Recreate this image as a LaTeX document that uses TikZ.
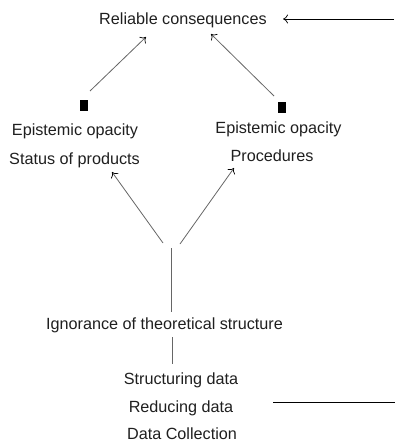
\documentclass[tikz,border=0pt]{standalone}
\usepackage{fontspec}
\setmainfont{Liberation Sans}
\usetikzlibrary{arrows.meta}
\begin{document}
\begin{tikzpicture}[x=1pt,y=-1pt,
  lbl/.style={anchor=base,inner sep=0pt,text=black!88,font=\fontsize{16.2}{19}\selectfont},
  conn/.style={draw=black!60,line width=0.8pt,-{To[length=5pt,width=9pt,line width=0.7pt,black]}},
  plain/.style={draw=black!60,line width=0.8pt},
  sq/.style={fill=black,minimum width=8pt,minimum height=10pt,inner sep=0pt}]
\useasboundingbox (0,0) rectangle (395,441);
\node[lbl] (rel) at (183,25) {Reliable consequences};
\node[lbl] (eo1) at (75,135) {Epistemic opacity};
\node[lbl] (sp) at (74.5,164) {Status of products};
\node[lbl] (eo2) at (278.5,133) {Epistemic opacity};
\node[lbl] (proc) at (272,161) {Procedures};
\node[lbl] (ign) at (164.5,329) {Ignorance of theoretical structure};
\node[lbl] (sd) at (181,384) {Structuring data};
\node[lbl] (rd) at (181,412) {Reducing data};
\node[lbl] (dc) at (182,439) {Data Collection};
\node[sq] (s1) at (84,105.5) {};
\node[sq] (s2) at (281.5,107.5) {};
% arrow endpoints
\coordinate (a1s) at (90,91);
\coordinate (a1e) at (146,37);
\coordinate (a2s) at (274,96);
\coordinate (a2e) at (211,34);
\coordinate (a3s) at (163,243);
\coordinate (a3e) at (112,172);
\coordinate (a4s) at (180,244);
\coordinate (a4e) at (234,168);
\coordinate (rin) at (394,19);
\coordinate (rtip) at (283,19);
\coordinate (v1t) at (171,248);
\coordinate (v1b) at (171,312);
\coordinate (v2t) at (172,337);
\coordinate (v2b) at (172,364);
\coordinate (h1) at (273,402);
\coordinate (h2) at (395,402);
\draw[conn] (a1s) -- (a1e);
\draw[conn] (a2s) -- (a2e);
\draw[conn] (a3s) -- (a3e);
\draw[conn] (a4s) -- (a4e);
\draw[conn,draw=black] (rin) -- (rtip);
\draw[plain] (v1t) -- (v1b);
\draw[plain] (v2t) -- (v2b);
\draw[plain,draw=black] (h1) -- (h2);
\end{tikzpicture}
\end{document}
